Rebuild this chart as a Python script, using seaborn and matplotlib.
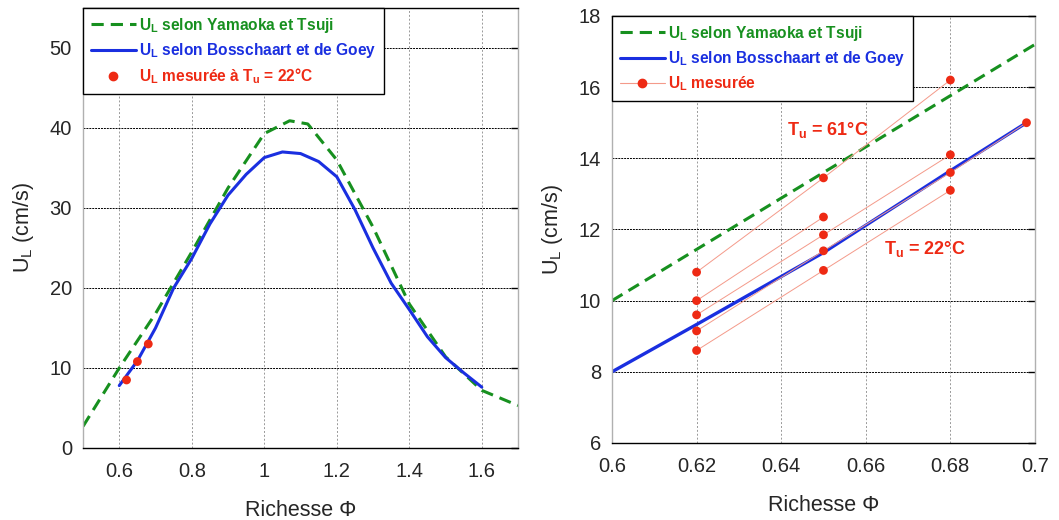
import numpy as np
import pandas as pd
import seaborn as sns
import matplotlib
matplotlib.use("Agg")
import matplotlib.pyplot as plt
from matplotlib.lines import Line2D

# Données
# ==============================================================================
# Graphe de gauche : U_L en fonction de la richesse
phi_yt = [0.5, 0.6, 0.7, 0.8, 0.9, 1.0, 1.07, 1.12, 1.2, 1.3, 1.4, 1.5, 1.6, 1.7]
u_yt = [2.7, 10.0, 16.8, 24.5, 32.5, 39.3, 40.9, 40.5, 36.0, 27.6, 18.0, 11.4, 7.2, 5.3]

phi_bg = [0.6, 0.65, 0.7, 0.75, 0.8, 0.85, 0.9, 0.95, 1.0, 1.05, 1.1, 1.15,
          1.2, 1.25, 1.3, 1.35, 1.4, 1.45, 1.5, 1.55, 1.6]
u_bg = [7.8, 10.9, 15.0, 20.0, 23.7, 28.0, 31.6, 34.2, 36.3, 37.0, 36.8, 35.8,
        33.9, 29.8, 25.0, 20.6, 17.3, 13.9, 11.3, 9.4, 7.6]

phi_mes = [0.62, 0.65, 0.68]
u_mes = [8.5, 10.8, 13.0]

# Graphe de droite : zoom sur les mélanges pauvres
phi_yt_zoom = [0.6, 0.7]
u_yt_zoom = [10.0, 17.2]

phi_bg_zoom = [0.6, 0.62, 0.65, 0.68, 0.698]
u_bg_zoom = [8.0, 9.33, 11.35, 13.65, 15.0]

# séries mesurées (de Tu = 61°C en haut à Tu = 22°C en bas)
serie_phi = [
    [0.62, 0.65, 0.68],
    [0.62, 0.65],
    [0.62, 0.65, 0.68],
    [0.62, 0.65, 0.68, 0.698],
    [0.62, 0.65, 0.68],
]
serie_u = [
    [10.8, 13.45, 16.2],
    [10.0, 12.35],
    [9.6, 11.85, 14.1],
    [9.15, 11.4, 13.6, 15.0],
    [8.6, 10.85, 13.1],
]

lab_yt = r"U$_\mathbf{L}$ selon Yamaoka et Tsuji"
lab_bg = r"U$_\mathbf{L}$ selon Bosschaart et de Goey"
lab_mes_g = r"U$_\mathbf{L}$ mesurée à T$_\mathbf{u}$ = 22°C"
lab_mes_d = r"U$_\mathbf{L}$ mesurée"

# Style
# ==============================================================================
sns.set_theme(style="white")
plt.rcParams["font.family"] = ["Liberation Sans", "DejaVu Sans"]
plt.rcParams["mathtext.fontset"] = "custom"
plt.rcParams["mathtext.rm"] = "Liberation Sans"
plt.rcParams["mathtext.bf"] = "Liberation Sans:bold"

VERT = "#17901f"
BLEU = "#1a2fe0"
ROUGE = "#ee2a14"
ROSE = "#f49a8a"
DASH = (0, (4, 2.3))

fig = plt.figure(figsize=(10.59, 5.20), dpi=100)
ax1 = fig.add_axes([0.0784, 0.1385, 0.4108, 0.8462])
ax2 = fig.add_axes([0.5779, 0.1481, 0.3994, 0.8212])


def habillage(ax):
    ax.grid(False)
    for s in ["top", "bottom"]:
        ax.spines[s].set_color("black")
        ax.spines[s].set_linewidth(1.0)
    for s in ["left", "right"]:
        ax.spines[s].set_color("#b0b0b0")
        ax.spines[s].set_linewidth(1.0)
    ax.yaxis.grid(True, color="black", linestyle=(0, (2, 1)), linewidth=0.7)
    ax.xaxis.grid(True, color="#999999", linestyle=(0, (2, 2)), linewidth=0.7)
    ax.set_axisbelow(True)
    ax.tick_params(axis="both", labelsize=14.5)
    ax.tick_params(axis="y", left=False, right=True, direction="in", pad=8,
                   length=5, width=1, color="black", labelright=False)
    ax.tick_params(axis="x", bottom=False, pad=4)
    ax.set_xlabel("Richesse Φ", fontsize=15.5, labelpad=14)
    ax.set_ylabel(r"U$_\mathrm{L}$ (cm/s)", fontsize=15.5, labelpad=10)


def legende(ax, handles, labels):
    leg = ax.legend(handles, labels, loc="upper left",
                    bbox_to_anchor=(0, 1), borderaxespad=0, fancybox=False,
                    edgecolor="black", framealpha=1, handlelength=2.9,
                    handletextpad=0.2, labelspacing=0.4, borderpad=0.5,
                    prop={"size": 11.2, "weight": "bold"})
    leg.get_frame().set_linewidth(1.0)
    for t, c in zip(leg.get_texts(), [VERT, BLEU, ROUGE]):
        t.set_color(c)


# Graphe de gauche
# ==============================================================================
sns.lineplot(x=phi_yt, y=u_yt, ax=ax1, color=VERT, linewidth=2.2,
             linestyle=DASH, sort=False, estimator=None)
sns.lineplot(x=phi_bg, y=u_bg, ax=ax1, color=BLEU, linewidth=2.2,
             sort=False, estimator=None)
sns.scatterplot(x=phi_mes, y=u_mes, ax=ax1, color=ROUGE, s=40,
                edgecolor="none", zorder=5)

ax1.set_xlim(0.5, 1.7)
ax1.set_ylim(0, 55)
ax1.set_xticks([0.6, 0.8, 1.0, 1.2, 1.4, 1.6])
ax1.set_xticklabels(["0.6", "0.8", "1", "1.2", "1.4", "1.6"])
ax1.set_yticks([0, 10, 20, 30, 40, 50])
habillage(ax1)

h1 = [Line2D([], [], color=VERT, lw=2.2, linestyle=DASH),
      Line2D([], [], color=BLEU, lw=2.2),
      Line2D([], [], color=ROUGE, lw=0, marker="o", markersize=6)]
legende(ax1, h1, [lab_yt, lab_bg, lab_mes_g])

# Graphe de droite
# ==============================================================================
sns.lineplot(x=phi_yt_zoom, y=u_yt_zoom, ax=ax2, color=VERT, linewidth=2.2,
             linestyle=DASH, sort=False, estimator=None)
sns.lineplot(x=phi_bg_zoom, y=u_bg_zoom, ax=ax2, color=BLEU, linewidth=2.4,
             sort=False, estimator=None)
for px, py in zip(serie_phi, serie_u):
    sns.lineplot(x=px, y=py, ax=ax2, color=ROSE, linewidth=0.7,
                 sort=False, estimator=None, zorder=4)
    sns.scatterplot(x=px, y=py, ax=ax2, color=ROUGE, s=40,
                    edgecolor="none", zorder=5)

ax2.set_xlim(0.6, 0.7)
ax2.set_ylim(6, 18)
ax2.set_xticks([0.6, 0.62, 0.64, 0.66, 0.68, 0.7])
ax2.set_xticklabels(["0.6", "0.62", "0.64", "0.66", "0.68", "0.7"])
ax2.set_yticks([6, 8, 10, 12, 14, 16, 18])
habillage(ax2)
ax2.spines["right"].set_linestyle((0, (2, 1)))

ax2.text(0.6414, 14.8, r"T$_\mathbf{u}$ = 61°C", color=ROUGE, fontsize=13,
         fontweight="bold", va="center", ha="left")
ax2.text(0.6642, 11.45, r"T$_\mathbf{u}$ = 22°C", color=ROUGE, fontsize=13,
         fontweight="bold", va="center", ha="left")

h2 = [Line2D([], [], color=VERT, lw=2.2, linestyle=DASH),
      Line2D([], [], color=BLEU, lw=2.2),
      Line2D([], [], color=ROSE, lw=0.8, marker="o", markersize=6,
             markerfacecolor=ROUGE, markeredgecolor=ROUGE)]
legende(ax2, h2, [lab_yt, lab_bg, lab_mes_d])

fig.savefig("out.png", dpi=100)
